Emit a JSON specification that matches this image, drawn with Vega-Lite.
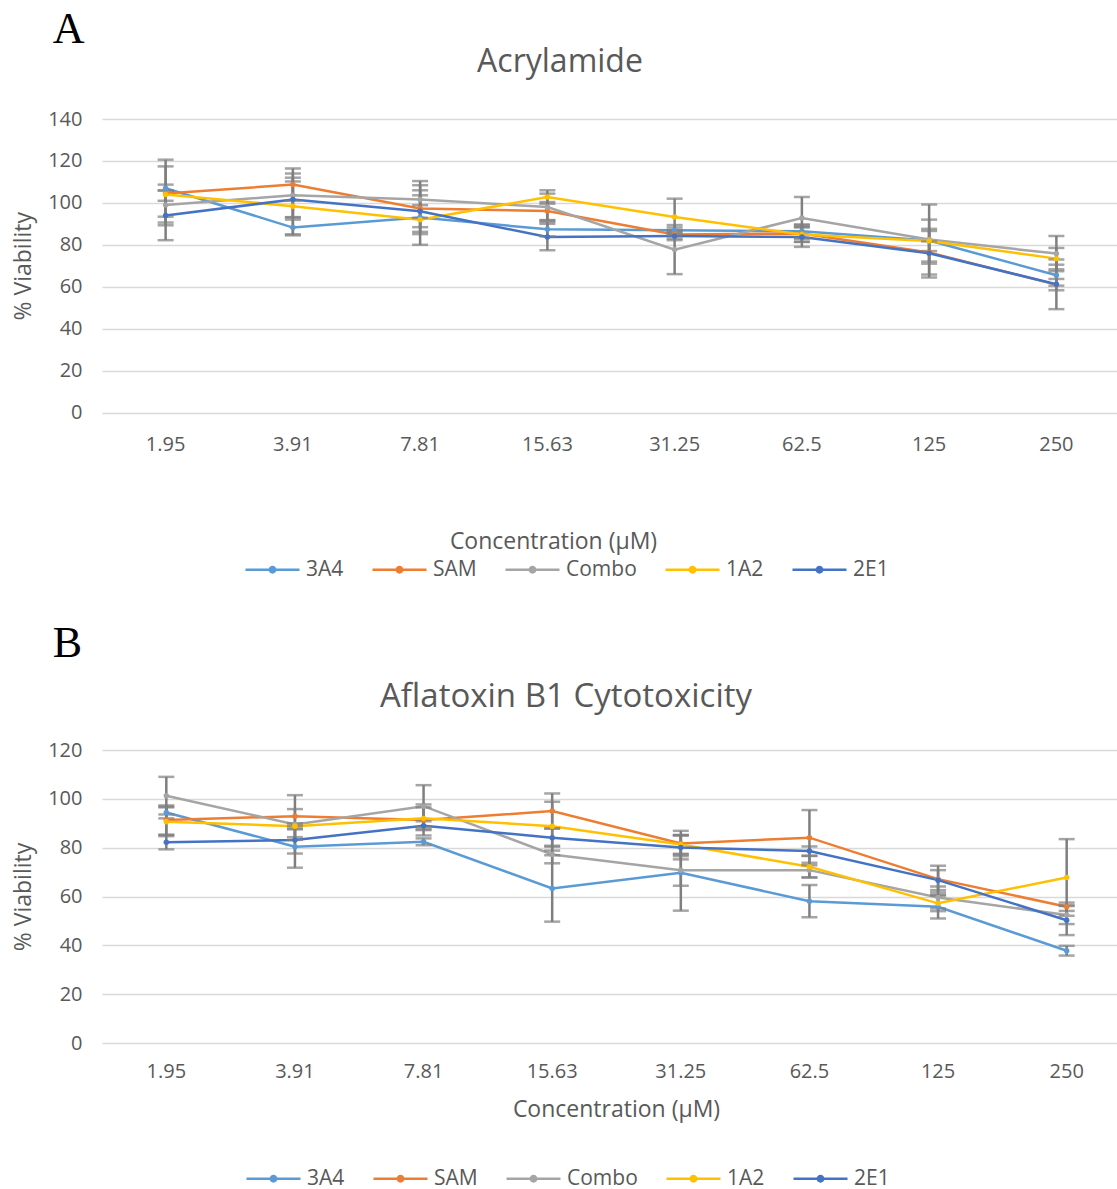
{
  "$schema": "https://vega.github.io/schema/vega-lite/v6.json",
  "background": "white",
  "padding": {"left": 12, "top": 8, "right": 0, "bottom": 70},
  "autosize": {"type": "pad"},
  "config": {
    "view": {"stroke": null},
    "font": "Open Sans",
    "axis": {"labelFont": "Open Sans", "titleFont": "Open Sans", "labelColor": "#595959", "titleColor": "#595959", "titleFontWeight": "normal"},
    "legend": {"labelFont": "Open Sans"}
  },
  "resolve": {"scale": {"color": "independent", "fill": "independent"}, "legend": {"color": "independent"}},
  "datasets": {
    "a": [
      {"c": "1.95", "s": "3A4", "v": 107, "lo": 93.4, "hi": 120.6},
      {"c": "1.95", "s": "SAM", "v": 104.5, "lo": 90.6, "hi": 117.4},
      {"c": "1.95", "s": "Combo", "v": 99, "lo": 89.3, "hi": 108.7},
      {"c": "1.95", "s": "1A2", "v": 104, "lo": 101, "hi": 106},
      {"c": "1.95", "s": "2E1", "v": 94, "lo": 82.2, "hi": 105.8},
      {"c": "3.91", "s": "3A4", "v": 88.2, "lo": 84.5, "hi": 92},
      {"c": "3.91", "s": "SAM", "v": 108.7, "lo": 101, "hi": 116.4},
      {"c": "3.91", "s": "Combo", "v": 103.6, "lo": 93.2, "hi": 114},
      {"c": "3.91", "s": "1A2", "v": 98.4, "lo": 85, "hi": 112},
      {"c": "3.91", "s": "2E1", "v": 101.6, "lo": 93, "hi": 110.2},
      {"c": "7.81", "s": "3A4", "v": 93, "lo": 80, "hi": 106},
      {"c": "7.81", "s": "SAM", "v": 97.3, "lo": 86.2, "hi": 108.4},
      {"c": "7.81", "s": "Combo", "v": 101.6, "lo": 92.8, "hi": 110.4},
      {"c": "7.81", "s": "1A2", "v": 92, "lo": 85.1, "hi": 98.9},
      {"c": "7.81", "s": "2E1", "v": 96, "lo": 88.4, "hi": 103.6},
      {"c": "15.63", "s": "3A4", "v": 87.4, "lo": 84, "hi": 90.9},
      {"c": "15.63", "s": "SAM", "v": 96.1, "lo": 91.8, "hi": 100.4},
      {"c": "15.63", "s": "Combo", "v": 98, "lo": 91.6, "hi": 104.4},
      {"c": "15.63", "s": "1A2", "v": 102.8, "lo": 99.6, "hi": 106},
      {"c": "15.63", "s": "2E1", "v": 83.7, "lo": 77.4, "hi": 90},
      {"c": "31.25", "s": "3A4", "v": 86.9, "lo": 85.6, "hi": 88.2},
      {"c": "31.25", "s": "SAM", "v": 84.9, "lo": 83, "hi": 86.8},
      {"c": "31.25", "s": "Combo", "v": 77.7, "lo": 66, "hi": 89.4},
      {"c": "31.25", "s": "1A2", "v": 93.3, "lo": 84.6, "hi": 102},
      {"c": "31.25", "s": "2E1", "v": 84.2, "lo": 82.2, "hi": 86.2},
      {"c": "62.5", "s": "3A4", "v": 86.5, "lo": 83.3, "hi": 89.7},
      {"c": "62.5", "s": "SAM", "v": 85.4, "lo": 81.4, "hi": 89.4},
      {"c": "62.5", "s": "Combo", "v": 92.8, "lo": 82.8, "hi": 102.8},
      {"c": "62.5", "s": "1A2", "v": 84.9, "lo": 81.4, "hi": 88.4},
      {"c": "62.5", "s": "2E1", "v": 83.7, "lo": 79, "hi": 88.4},
      {"c": "125", "s": "3A4", "v": 82, "lo": 72, "hi": 92},
      {"c": "125", "s": "SAM", "v": 76.3, "lo": 71, "hi": 81.6},
      {"c": "125", "s": "Combo", "v": 82.5, "lo": 65.8, "hi": 99.2},
      {"c": "125", "s": "1A2", "v": 81.8, "lo": 77, "hi": 86.6},
      {"c": "125", "s": "2E1", "v": 76, "lo": 64.4, "hi": 87.6},
      {"c": "250", "s": "3A4", "v": 65.5, "lo": 60.5, "hi": 70.5},
      {"c": "250", "s": "SAM", "v": 61, "lo": 58.3, "hi": 63.7},
      {"c": "250", "s": "Combo", "v": 75.8, "lo": 67.4, "hi": 84.2},
      {"c": "250", "s": "1A2", "v": 73.4, "lo": 68.3, "hi": 78.5},
      {"c": "250", "s": "2E1", "v": 61.2, "lo": 49.3, "hi": 73}
    ],
    "b": [
      {"c": "1.95", "s": "3A4", "v": 94.4, "lo": 92, "hi": 96.8},
      {"c": "1.95", "s": "SAM", "v": 91.3, "lo": 85.3, "hi": 97.3},
      {"c": "1.95", "s": "Combo", "v": 101.3, "lo": 93.6, "hi": 109},
      {"c": "1.95", "s": "1A2", "v": 90.6, "lo": 84.7, "hi": 96.5},
      {"c": "1.95", "s": "2E1", "v": 82.2, "lo": 79.3, "hi": 85.2},
      {"c": "3.91", "s": "3A4", "v": 80.4, "lo": 71.8, "hi": 89},
      {"c": "3.91", "s": "SAM", "v": 92.9, "lo": 84.3, "hi": 101.5},
      {"c": "3.91", "s": "Combo", "v": 89.5, "lo": 83.2, "hi": 95.8},
      {"c": "3.91", "s": "1A2", "v": 88.8, "lo": 87.5, "hi": 90},
      {"c": "3.91", "s": "2E1", "v": 83.1, "lo": 77.6, "hi": 87.9},
      {"c": "7.81", "s": "3A4", "v": 82.4, "lo": 81, "hi": 83.8},
      {"c": "7.81", "s": "SAM", "v": 91.3, "lo": 85, "hi": 97.7},
      {"c": "7.81", "s": "Combo", "v": 97, "lo": 88.4, "hi": 105.6},
      {"c": "7.81", "s": "1A2", "v": 92, "lo": 87.5, "hi": 96.5},
      {"c": "7.81", "s": "2E1", "v": 89, "lo": 87.2, "hi": 90.8},
      {"c": "15.63", "s": "3A4", "v": 63.3, "lo": 49.7, "hi": 76.9},
      {"c": "15.63", "s": "SAM", "v": 95, "lo": 87.8, "hi": 102.2},
      {"c": "15.63", "s": "Combo", "v": 77.2, "lo": 73.6, "hi": 80.8},
      {"c": "15.63", "s": "1A2", "v": 88.8, "lo": 78.8, "hi": 98.8},
      {"c": "15.63", "s": "2E1", "v": 84.1, "lo": 80.4, "hi": 87.9},
      {"c": "31.25", "s": "3A4", "v": 69.7, "lo": 54.2, "hi": 85.2},
      {"c": "31.25", "s": "SAM", "v": 81.7, "lo": 76.5, "hi": 86.9},
      {"c": "31.25", "s": "Combo", "v": 70.8, "lo": 64.4, "hi": 77.2},
      {"c": "31.25", "s": "1A2", "v": 81.3, "lo": 77.5, "hi": 85.1},
      {"c": "31.25", "s": "2E1", "v": 80.1, "lo": 75.2, "hi": 85},
      {"c": "62.5", "s": "3A4", "v": 58.1, "lo": 51.5, "hi": 64.7},
      {"c": "62.5", "s": "SAM", "v": 84.1, "lo": 72.8, "hi": 95.4},
      {"c": "62.5", "s": "Combo", "v": 70.8, "lo": 67.8, "hi": 73.8},
      {"c": "62.5", "s": "1A2", "v": 72.2, "lo": 67.8, "hi": 76.6},
      {"c": "62.5", "s": "2E1", "v": 78.6, "lo": 76.7, "hi": 80.5},
      {"c": "125", "s": "3A4", "v": 55.8, "lo": 51, "hi": 60.6},
      {"c": "125", "s": "SAM", "v": 67.1, "lo": 61.6, "hi": 72.6},
      {"c": "125", "s": "Combo", "v": 59.6, "lo": 55.1, "hi": 64.1},
      {"c": "125", "s": "1A2", "v": 57.2, "lo": 54, "hi": 60.4},
      {"c": "125", "s": "2E1", "v": 66.7, "lo": 62.6, "hi": 70.8},
      {"c": "250", "s": "3A4", "v": 37.8, "lo": 35.8, "hi": 39.8},
      {"c": "250", "s": "SAM", "v": 55.8, "lo": 54.1, "hi": 57.5},
      {"c": "250", "s": "Combo", "v": 52.4, "lo": 48.7, "hi": 56.1},
      {"c": "250", "s": "1A2", "v": 67.8, "lo": 52.1, "hi": 83.5},
      {"c": "250", "s": "2E1", "v": 50.3, "lo": 44.2, "hi": 56.4}
    ]
  },
  "spacing": 42,
  "vconcat": [
    {
      "title": {"text": "A", "anchor": "start", "font": "Liberation Serif", "fontSize": 44, "fontWeight": "normal", "color": "black", "dx": 40, "offset": -6},
      "vconcat": [
        {
          "width": 1014,
          "height": 293.5,
          "title": {"text": "Acrylamide", "fontSize": 32, "fontWeight": "normal", "color": "#595959", "font": "Open Sans", "dx": -49, "offset": 30},
          "data": {"name": "a"},
          "encoding": {
            "x": {"field": "c", "type": "ordinal", "sort": ["1.95", "3.91", "7.81", "15.63", "31.25", "62.5", "125", "250"],
              "scale": {"range": [0, 1018]},
              "axis": {"domain": false, "ticks": false, "labelAngle": 0, "labelFontSize": 20, "labelPadding": 22, "title": "Concentration (µM)", "titleFontSize": 23, "titlePadding": 76, "titleX": 451}}
          },
          "layer": [
            {"mark": {"type": "line", "strokeWidth": 2.5},
              "encoding": {
                "y": {"field": "v", "type": "quantitative", "scale": {"domain": [0, 140]},
                  "axis": {"values": [0, 20, 40, 60, 80, 100, 120, 140], "domain": false, "ticks": false, "gridColor": "#d9d9d9", "gridWidth": 1.5, "labelFontSize": 20, "labelPadding": 20, "title": "% Viability", "titleFontSize": 23, "titlePadding": 12}},
                "color": {"field": "s", "type": "nominal", "scale": {"domain": ["3A4", "SAM", "Combo", "1A2", "2E1"], "range": ["#5B9BD5", "#ED7D31", "#A5A5A5", "#FFC000", "#4472C4"]},
                  "legend": {"orient": "none", "direction": "horizontal", "legendX": 142, "legendY": 422, "title": null, "symbolType": "M-1,0H1M-0.1,0a0.1,0.1 0 1,0 0.2,0a0.1,0.1 0 1,0 -0.2,0", "symbolSize": 2916, "symbolStrokeWidth": 2.5, "labelFontSize": 21, "labelColor": "#595959", "labelOffset": 5, "columnPadding": 23}}
              }},
            {"mark": {"type": "rule", "color": "#7f7f7f", "strokeWidth": 2.5},
              "encoding": {"y": {"field": "lo", "type": "quantitative"}, "y2": {"field": "hi"}}},
            {"mark": {"type": "tick", "color": "#7f7f7f", "size": 16, "thickness": 2.5},
              "encoding": {"y": {"field": "lo", "type": "quantitative"}}},
            {"mark": {"type": "tick", "color": "#7f7f7f", "size": 16, "thickness": 2.5},
              "encoding": {"y": {"field": "hi", "type": "quantitative"}}},
            {"mark": {"type": "point", "filled": true, "size": 30, "opacity": 1, "strokeWidth": 0},
              "encoding": {
                "y": {"field": "v", "type": "quantitative"},
                "fill": {"field": "s", "type": "nominal", "scale": {"domain": ["3A4", "SAM", "Combo", "1A2", "2E1"], "range": ["#5B9BD5", "#ED7D31", "#A5A5A5", "#FFC000", "#4472C4"]}, "legend": null}
              }}
          ]
        }
      ]
    },
    {
      "title": {"text": "B", "anchor": "start", "font": "Liberation Serif", "fontSize": 44, "fontWeight": "normal", "color": "black", "dx": 40, "offset": 15},
      "vconcat": [
        {
          "width": 1014,
          "height": 293,
          "title": {"text": "Aflatoxin B1 Cytotoxicity", "fontSize": 33, "fontWeight": "normal", "color": "#595959", "font": "Open Sans", "dx": -43, "offset": 26},
          "data": {"name": "b"},
          "encoding": {
            "x": {"field": "c", "type": "ordinal", "sort": ["1.95", "3.91", "7.81", "15.63", "31.25", "62.5", "125", "250"],
              "scale": {"range": [0, 1029]},
              "axis": {"domain": false, "ticks": false, "labelAngle": 0, "labelFontSize": 20, "labelPadding": 18, "title": "Concentration (µM)", "titleFontSize": 23, "titlePadding": 17, "titleX": 514}}
          },
          "layer": [
            {"mark": {"type": "line", "strokeWidth": 2.5},
              "encoding": {
                "y": {"field": "v", "type": "quantitative", "scale": {"domain": [0, 120]},
                  "axis": {"values": [0, 20, 40, 60, 80, 100, 120], "domain": false, "ticks": false, "gridColor": "#d9d9d9", "gridWidth": 1.5, "labelFontSize": 20, "labelPadding": 20, "title": "% Viability", "titleFontSize": 23, "titlePadding": 12}},
                "color": {"field": "s", "type": "nominal", "scale": {"domain": ["3A4", "SAM", "Combo", "1A2", "2E1"], "range": ["#5B9BD5", "#ED7D31", "#A5A5A5", "#FFC000", "#4472C4"]},
                  "legend": {"orient": "none", "direction": "horizontal", "legendX": 143, "legendY": 400, "title": null, "symbolType": "M-1,0H1M-0.1,0a0.1,0.1 0 1,0 0.2,0a0.1,0.1 0 1,0 -0.2,0", "symbolSize": 2916, "symbolStrokeWidth": 2.5, "labelFontSize": 21, "labelColor": "#595959", "labelOffset": 5, "columnPadding": 23}}
              }},
            {"mark": {"type": "rule", "color": "#7f7f7f", "strokeWidth": 2.5},
              "encoding": {"y": {"field": "lo", "type": "quantitative"}, "y2": {"field": "hi"}}},
            {"mark": {"type": "tick", "color": "#7f7f7f", "size": 16, "thickness": 2.5},
              "encoding": {"y": {"field": "lo", "type": "quantitative"}}},
            {"mark": {"type": "tick", "color": "#7f7f7f", "size": 16, "thickness": 2.5},
              "encoding": {"y": {"field": "hi", "type": "quantitative"}}},
            {"mark": {"type": "point", "filled": true, "size": 30, "opacity": 1, "strokeWidth": 0},
              "encoding": {
                "y": {"field": "v", "type": "quantitative"},
                "fill": {"field": "s", "type": "nominal", "scale": {"domain": ["3A4", "SAM", "Combo", "1A2", "2E1"], "range": ["#5B9BD5", "#ED7D31", "#A5A5A5", "#FFC000", "#4472C4"]}, "legend": null}
              }}
          ]
        }
      ]
    }
  ]
}
